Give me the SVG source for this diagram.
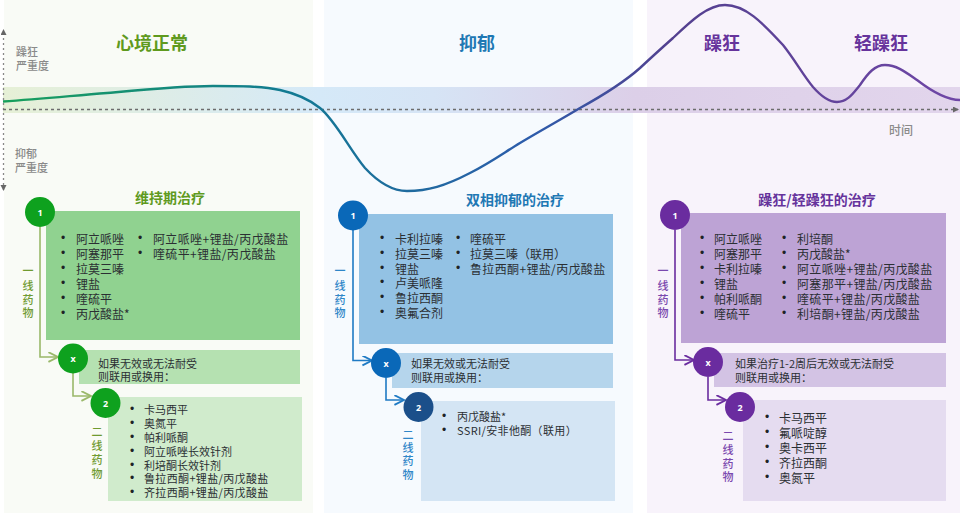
<svg xmlns="http://www.w3.org/2000/svg" width="960" height="513" viewBox="0 0 960 513">
<style>
text{font-family:"Noto Sans CJK SC","Noto Sans",sans-serif;dominant-baseline:central}
.t{font-size:18px;font-weight:700;text-anchor:middle}
.s{font-size:14px;font-weight:700;text-anchor:middle}
.ax{font-size:11px;fill:#8a8a8a;font-weight:500}
.l1{font-size:12px;fill:#2b2f33}
.l2{font-size:11px;fill:#2b2f33}
.w{letter-spacing:.35px}
.d{font-size:12px;fill:#1f2326;text-anchor:middle;font-family:"Liberation Sans",sans-serif}
.n{font-size:9px;font-weight:700;fill:#fff;text-anchor:middle;font-family:"Noto Sans",sans-serif}
.v{font-size:11px;font-weight:500;text-anchor:middle}
.g{fill:#5f9a1e}.b{fill:#1f78b4}.p{fill:#66339c}
.vg{fill:#6f9a30}.vb{fill:#2e86c8}.vp{fill:#7a48ae}
.c{fill:none;stroke-width:1.6}
</style>
<defs>
<linearGradient id="band" x1="0" x2="1" y1="0" y2="0">
<stop offset="0" stop-color="#e6f0d6"/><stop offset=".33" stop-color="#d5e9f8"/><stop offset=".45" stop-color="#d6e4f5"/><stop offset=".66" stop-color="#dccfe8"/><stop offset="1" stop-color="#e2d5ec"/>
</linearGradient>
<linearGradient id="curve" gradientUnits="userSpaceOnUse" x1="0" y1="0" x2="960" y2="0">
<stop offset="0" stop-color="#17a05a"/><stop offset=".3" stop-color="#127a92"/><stop offset=".55" stop-color="#2c5cab"/><stop offset=".7" stop-color="#53408f"/><stop offset="1" stop-color="#6f46a6"/>
</linearGradient>
<marker id="ag" markerWidth="7" markerHeight="7" refX="6" refY="3" orient="auto"><path d="M0 0L6 3L0 6" fill="none" stroke="#9ab86a" stroke-width="1.2"/></marker>
<marker id="ab" markerWidth="7" markerHeight="7" refX="6" refY="3" orient="auto"><path d="M0 0L6 3L0 6" fill="none" stroke="#1f7ac4" stroke-width="1.2"/></marker>
<marker id="ap" markerWidth="7" markerHeight="7" refX="6" refY="3" orient="auto"><path d="M0 0L6 3L0 6" fill="none" stroke="#6a2c9f" stroke-width="1.2"/></marker>
<marker id="ax" markerWidth="7" markerHeight="7" markerUnits="userSpaceOnUse" refX="5" refY="3" orient="auto-start-reverse"><path d="M0 0L6 3L0 6Z" fill="#666"/></marker>
</defs>
<rect width="960" height="513" fill="#fff"/>
<g id="panels">
<rect x="4" y="0" width="309" height="513" fill="#f9fbf6"/>
<rect x="324" y="0" width="309" height="513" fill="#f6fafe"/>
<rect x="647" y="0" width="313" height="513" fill="#f8f3fb"/>
<rect x="3" y="87" width="957" height="26" fill="url(#band)"/>
</g>
<g id="connectors">
<path d="M3.500 190V30" fill="none" stroke="#888" stroke-width="1.300" stroke-dasharray="2 3" marker-start="url(#ax)" marker-end="url(#ax)"/>
<path d="M3 109.500H958" fill="none" stroke="#6d6d6d" stroke-width="1.300" stroke-dasharray="3 3" marker-end="url(#ax)"/>
<path d="M3 101.500C40 99 70 96 107 93C145 89.500 180 86 213 86C240 86 262 86 280 90C298 94 310 100 320 108C335 120 350 150 365 168C378 182 392 191 407 191C428 191 445 186 470 173C490 163 505 152 520 143C540 131 560 120 580 108C600 97 622 84 640 68C655 54 664 46 673 38C692 20 708 5 725 5C745 5 762 22 783 45C795 60 803 75 813 87C820 95 828 102 837 102C848 102 854 92 860 85C868 73 875 65 885 65C897 65 907 73 917 80C930 90 945 100 960 100" fill="none" stroke="url(#curve)" stroke-width="2.400"/>
<path class="c" stroke="#9ab86a" marker-end="url(#ag)" d="M40 227V357H58"/>
<path class="c" stroke="#9ab86a" marker-end="url(#ag)" d="M73 373V396H91"/>
<path class="c" stroke="#1f7ac4" marker-end="url(#ab)" d="M353 230V360.500H372"/>
<path class="c" stroke="#1f7ac4" marker-end="url(#ab)" d="M386 378V400H404"/>
<path class="c" stroke="#6a2c9f" marker-end="url(#ap)" d="M675 230V360H694"/>
<path class="c" stroke="#6a2c9f" marker-end="url(#ap)" d="M708 377V400H726"/>
</g>
<g id="axis-labels">
<text class="ax" x="16" y="51">躁狂</text><text class="ax" x="16" y="65">严重度</text>
<text class="ax" x="15" y="153">抑郁</text><text class="ax" x="15" y="167">严重度</text>
<text class="ax" x="889" y="129" style="font-size:12px">时间</text>
</g>
<g id="titles">
<text class="t g" x="152" y="42">心境正常</text>
<text class="t b" x="477" y="42">抑郁</text>
<text class="t p" x="722" y="42">躁狂</text>
<text class="t p" x="881" y="42">轻躁狂</text>
<text class="s g" x="170" y="197">维持期治疗</text>
<text class="s b" x="515" y="199">双相抑郁的治疗</text>
<text class="s p" x="817" y="199">躁狂/轻躁狂的治疗</text>
</g>
<g id="green-first">
<rect x="46" y="211" width="254" height="129" fill="#90d290"/>
<circle cx="40" cy="212" r="15" fill="#0ea11e"/><text class="n" x="40" y="212">1</text>
<text class="v vg"><tspan x="28" y="270">一</tspan><tspan x="28" y="285">线</tspan><tspan x="28" y="299">药</tspan><tspan x="28" y="312">物</tspan></text>
<text class="d" x="63" y="238">•</text><text class="l1" x="76" y="238">阿立哌唑</text>
<text class="d" x="63" y="253">•</text><text class="l1" x="76" y="253">阿塞那平</text>
<text class="d" x="63" y="268">•</text><text class="l1" x="76" y="268">拉莫三嗪</text>
<text class="d" x="63" y="283">•</text><text class="l1" x="76" y="283">锂盐</text>
<text class="d" x="63" y="298">•</text><text class="l1" x="76" y="298">喹硫平</text>
<text class="d" x="63" y="313">•</text><text class="l1" x="76" y="313">丙戊酸盐*</text>
<text class="d" x="140" y="238">•</text><text class="l1 w" x="153" y="238">阿立哌唑+锂盐/丙戊酸盐</text>
<text class="d" x="140" y="253">•</text><text class="l1 w" x="153" y="253">喹硫平+锂盐/丙戊酸盐</text>
</g>
<g id="green-x">
<rect x="79" y="350" width="221" height="34" fill="#b5e1b1"/>
<circle cx="73" cy="358.500" r="15" fill="#0ea11e"/><text class="n" x="73" y="358.500">x</text>
<text class="l2" x="98" y="363">如果无效或无法耐受</text><text class="l2" x="98" y="376">则联用或换用：</text>
</g>
<g id="green-second">
<rect x="108" y="397" width="194" height="104" fill="#d0ebcc"/>
<circle cx="105.500" cy="403" r="15" fill="#0ea11e"/><text class="n" x="105.500" y="403">2</text>
<text class="v vg"><tspan x="97" y="431">二</tspan><tspan x="97" y="445">线</tspan><tspan x="97" y="459">药</tspan><tspan x="97" y="473">物</tspan></text>
<text class="d" x="132" y="409">•</text><text class="l2" x="144" y="409">卡马西平</text>
<text class="d" x="132" y="423">•</text><text class="l2" x="144" y="423">奥氮平</text>
<text class="d" x="132" y="437">•</text><text class="l2" x="144" y="437">帕利哌酮</text>
<text class="d" x="132" y="451">•</text><text class="l2" x="144" y="451">阿立哌唑长效针剂</text>
<text class="d" x="132" y="465">•</text><text class="l2" x="144" y="465">利培酮长效针剂</text>
<text class="d" x="132" y="478">•</text><text class="l2 w" x="144" y="478">鲁拉西酮+锂盐/丙戊酸盐</text>
<text class="d" x="132" y="492">•</text><text class="l2 w" x="144" y="492">齐拉西酮+锂盐/丙戊酸盐</text>
</g>
<g id="blue-first">
<rect x="359" y="214" width="254" height="130" fill="#93c2e4"/>
<circle cx="353" cy="215.500" r="15" fill="#0a68b8"/><text class="n" x="353" y="215.500">1</text>
<text class="v vb"><tspan x="340" y="270">一</tspan><tspan x="340" y="285">线</tspan><tspan x="340" y="299">药</tspan><tspan x="340" y="312">物</tspan></text>
<text class="d" x="382" y="238">•</text><text class="l1" x="395" y="238">卡利拉嗪</text>
<text class="d" x="382" y="253">•</text><text class="l1" x="395" y="253">拉莫三嗪</text>
<text class="d" x="382" y="268">•</text><text class="l1" x="395" y="268">锂盐</text>
<text class="d" x="382" y="282">•</text><text class="l1" x="395" y="282">卢美哌隆</text>
<text class="d" x="382" y="297">•</text><text class="l1" x="395" y="297">鲁拉西酮</text>
<text class="d" x="382" y="312">•</text><text class="l1" x="395" y="312">奥氟合剂</text>
<text class="d" x="458" y="238">•</text><text class="l1" x="470" y="238">喹硫平</text>
<text class="d" x="458" y="253">•</text><text class="l1" x="470" y="253">拉莫三嗪（联用）</text>
<text class="d" x="458" y="268">•</text><text class="l1 w" x="470" y="268">鲁拉西酮+锂盐/丙戊酸盐</text>
</g>
<g id="blue-x">
<rect x="392" y="353" width="221" height="35" fill="#b5d5ec"/>
<circle cx="386" cy="363" r="15" fill="#0a68b8"/><text class="n" x="386" y="363">x</text>
<text class="l2" x="411" y="363">如果无效或无法耐受</text><text class="l2" x="411" y="377">则联用或换用：</text>
</g>
<g id="blue-second">
<rect x="421" y="401" width="194" height="100" fill="#d4e5f4"/>
<circle cx="418.500" cy="407" r="15" fill="#1b4f8a"/><text class="n" x="418.500" y="407">2</text>
<text class="v vb"><tspan x="408" y="434">二</tspan><tspan x="408" y="447">线</tspan><tspan x="408" y="460">药</tspan><tspan x="408" y="474">物</tspan></text>
<text class="d" x="444" y="416">•</text><text class="l2" x="457" y="416">丙戊酸盐*</text>
<text class="d" x="444" y="430">•</text><text class="l2 w" x="457" y="430">SSRI/安非他酮（联用）</text>
</g>
<g id="purple-first">
<rect x="681" y="213" width="265" height="130" fill="#bda3d5"/>
<circle cx="675" cy="215" r="15" fill="#6a2c9f"/><text class="n" x="675" y="215">1</text>
<text class="v vp"><tspan x="663" y="270">一</tspan><tspan x="663" y="285">线</tspan><tspan x="663" y="299">药</tspan><tspan x="663" y="312">物</tspan></text>
<text class="d" x="702" y="238">•</text><text class="l1" x="714" y="238">阿立哌唑</text>
<text class="d" x="702" y="253">•</text><text class="l1" x="714" y="253">阿塞那平</text>
<text class="d" x="702" y="268">•</text><text class="l1" x="714" y="268">卡利拉嗪</text>
<text class="d" x="702" y="283">•</text><text class="l1" x="714" y="283">锂盐</text>
<text class="d" x="702" y="298">•</text><text class="l1" x="714" y="298">帕利哌酮</text>
<text class="d" x="702" y="313">•</text><text class="l1" x="714" y="313">喹硫平</text>
<text class="d" x="784" y="238">•</text><text class="l1" x="797" y="238">利培酮</text>
<text class="d" x="784" y="253">•</text><text class="l1" x="797" y="253">丙戊酸盐*</text>
<text class="d" x="784" y="268">•</text><text class="l1 w" x="797" y="268">阿立哌唑+锂盐/丙戊酸盐</text>
<text class="d" x="784" y="283">•</text><text class="l1 w" x="797" y="283">阿塞那平+锂盐/丙戊酸盐</text>
<text class="d" x="784" y="298">•</text><text class="l1 w" x="797" y="298">喹硫平+锂盐/丙戊酸盐</text>
<text class="d" x="784" y="313">•</text><text class="l1 w" x="797" y="313">利培酮+锂盐/丙戊酸盐</text>
</g>
<g id="purple-x">
<rect x="714" y="353" width="232" height="34" fill="#d3c3e4"/>
<circle cx="708" cy="362" r="15" fill="#6a2c9f"/><text class="n" x="708" y="362">x</text>
<text class="l2" x="735" y="363">如果治疗1-2周后无效或无法耐受</text><text class="l2" x="735" y="377">则联用或换用：</text>
</g>
<g id="purple-second">
<rect x="743" y="400" width="203" height="101" fill="#e5dcf0"/>
<circle cx="740" cy="407" r="15" fill="#6a2c9f"/><text class="n" x="740" y="407">2</text>
<text class="v vp"><tspan x="728" y="435">二</tspan><tspan x="728" y="449">线</tspan><tspan x="728" y="463">药</tspan><tspan x="728" y="476">物</tspan></text>
<text class="d" x="767" y="417">•</text><text class="l1" x="779" y="417">卡马西平</text>
<text class="d" x="767" y="432">•</text><text class="l1" x="779" y="432">氟哌啶醇</text>
<text class="d" x="767" y="447">•</text><text class="l1" x="779" y="447">奥卡西平</text>
<text class="d" x="767" y="462">•</text><text class="l1" x="779" y="462">齐拉西酮</text>
<text class="d" x="767" y="477">•</text><text class="l1" x="779" y="477">奥氮平</text>
</g>
</svg>
